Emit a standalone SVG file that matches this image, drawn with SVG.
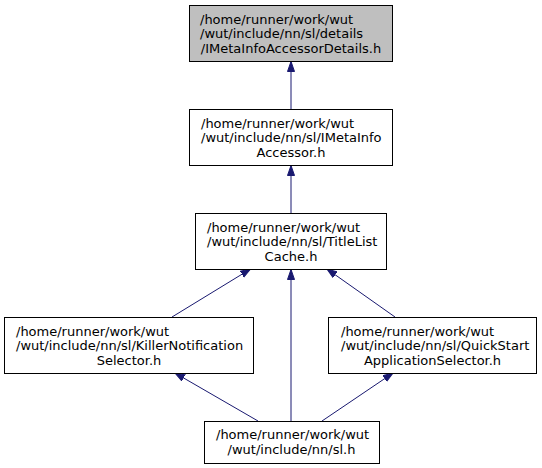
<svg xmlns="http://www.w3.org/2000/svg" width="542" height="468" viewBox="0 0 542 468">
<style>
.box{fill:#ffffff;stroke:#000000;stroke-width:1}
.cur{fill:#bfbfbf}
text{font-family:"DejaVu Sans",sans-serif;font-size:13px;fill:#000000}
.c{text-anchor:middle}
.e{fill:none;stroke:#191970;stroke-width:1}
</style>
<defs>
<marker id="ah" markerUnits="userSpaceOnUse" markerWidth="12" markerHeight="10" refX="10" refY="4" orient="auto">
<path d="M0,0.5 L10,4 L0,7.5 Z" fill="#191970" stroke="#191970" stroke-width="1"/>
</marker>
</defs>
<rect width="542" height="468" fill="#ffffff"/>
<g id="edges">
<path class="e" d="M291,109 L291,61.5" marker-end="url(#ah)"/>
<path class="e" d="M291,213 L291,165.5" marker-end="url(#ah)"/>
<path class="e" d="M172,317 L250.5,269" marker-end="url(#ah)"/>
<path class="e" d="M395,317 L327,269" marker-end="url(#ah)"/>
<path class="e" d="M291,421 L291,269.5" marker-end="url(#ah)"/>
<path class="e" d="M258,421 L175,373" marker-end="url(#ah)"/>
<path class="e" d="M322,421 L393,373" marker-end="url(#ah)"/>
</g>
<g id="node1">
<rect class="box cur" x="189.5" y="5.5" width="203" height="56"/>
<text x="200" y="23.5">/home/runner/work/wut</text>
<text x="200" y="38">/wut/include/nn/sl/details</text>
<text x="291" y="52.5" class="c">/IMetaInfoAccessorDetails.h</text>
</g>
<g id="node2">
<rect class="box" x="189.5" y="109.5" width="203" height="56"/>
<text x="201" y="127.5">/home/runner/work/wut</text>
<text x="201" y="142">/wut/include/nn/sl/IMetaInfo</text>
<text x="291" y="156.5" class="c">Accessor.h</text>
</g>
<g id="node3">
<rect class="box" x="195.5" y="213.5" width="191" height="56"/>
<text x="207" y="231.5">/home/runner/work/wut</text>
<text x="207" y="246">/wut/include/nn/sl/TitleList</text>
<text x="291" y="260.5" class="c">Cache.h</text>
</g>
<g id="node4">
<rect class="box" x="4.5" y="317.5" width="249" height="56"/>
<text x="16" y="335.5">/home/runner/work/wut</text>
<text x="16" y="350">/wut/include/nn/sl/KillerNotification</text>
<text x="129" y="364.5" class="c">Selector.h</text>
</g>
<g id="node5">
<rect class="box" x="328.5" y="317.5" width="208" height="56"/>
<text x="341" y="335.5">/home/runner/work/wut</text>
<text x="341" y="350">/wut/include/nn/sl/QuickStart</text>
<text x="432.5" y="364.5" class="c">ApplicationSelector.h</text>
</g>
<g id="node6">
<rect class="box" x="204.5" y="421.5" width="175" height="42"/>
<text x="216" y="439">/home/runner/work/wut</text>
<text x="291.5" y="453.5" class="c">/wut/include/nn/sl.h</text>
</g>
</svg>
